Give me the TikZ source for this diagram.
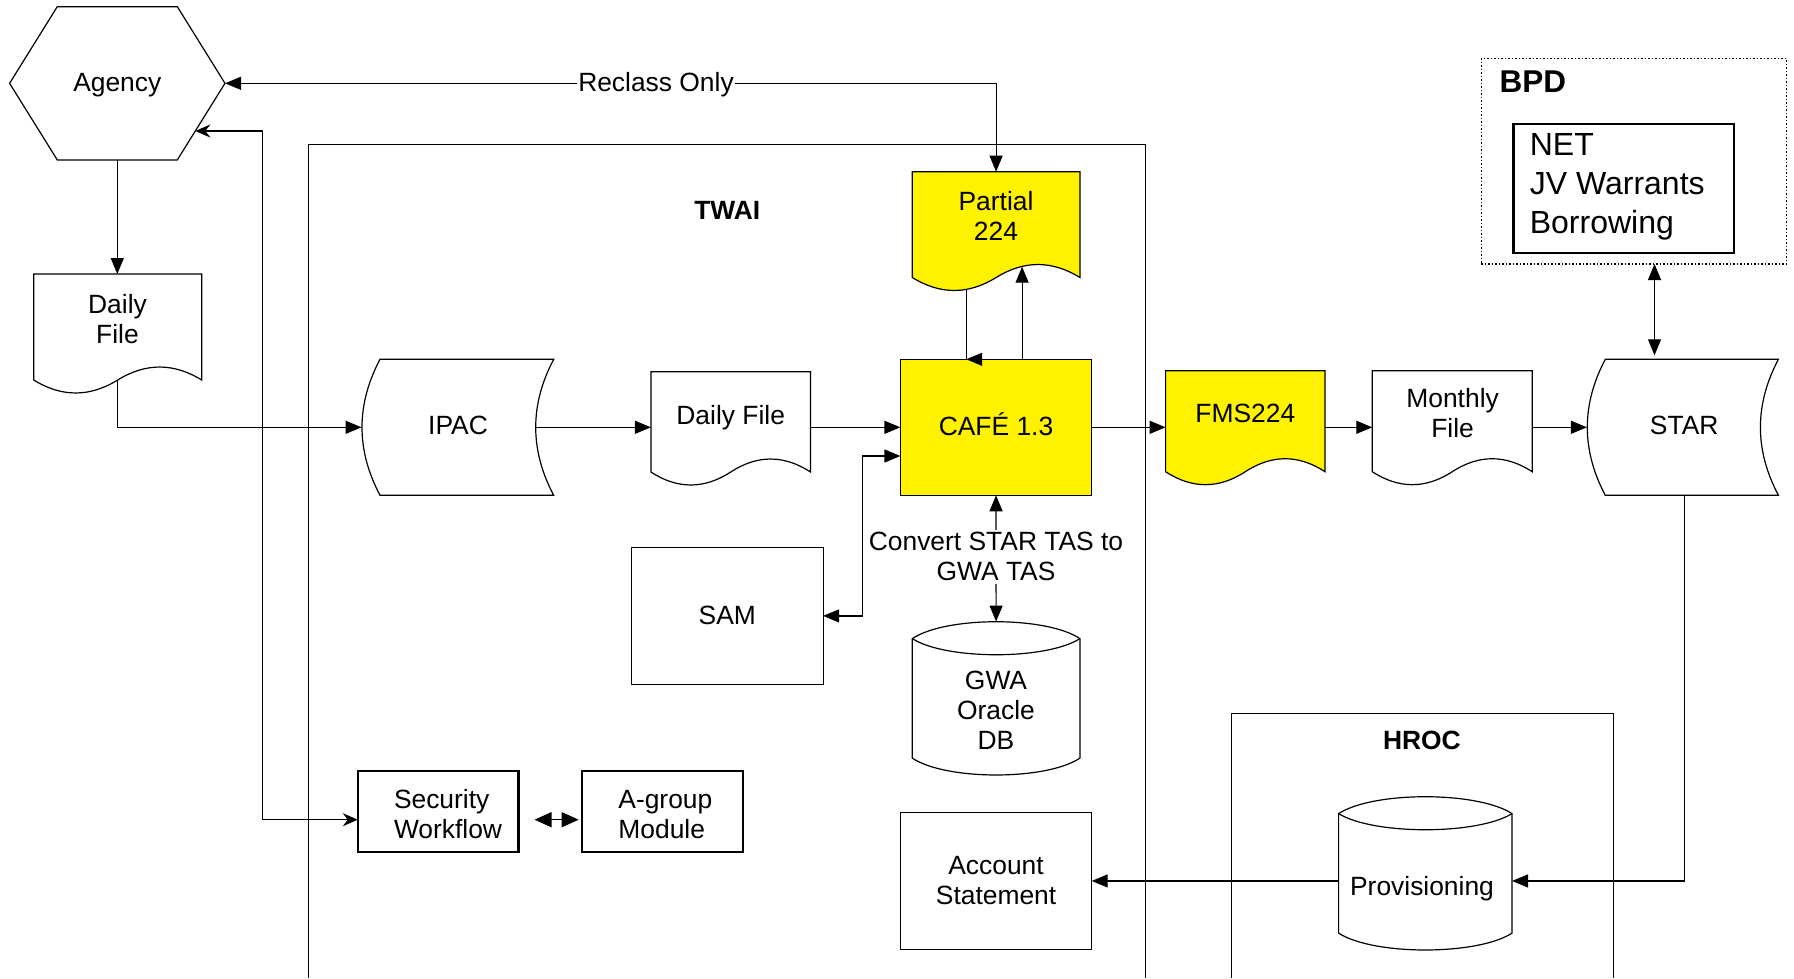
\documentclass[tikz,border=0pt]{standalone}
\usepackage{fontspec}
\setmainfont{Liberation Sans}
\usetikzlibrary{arrows.meta,calc}
\newcommand\mfs{\fontsize{26.4pt}{30pt}\selectfont}
\newcommand\docpath[2]{%
  \path[shp, fill=#2] (#1.north west) -- (#1.north east) -- (#1.south east)
    .. controls ($(#1.south east)!0.1667!(#1.south west)+(0,-17.3)$) and ($(#1.south east)!0.3333!(#1.south west)+(0,-17.3)$) .. ($(#1.south east)!0.5!(#1.south west)$)
    .. controls ($(#1.south east)!0.6667!(#1.south west)+(0,17.3)$) and ($(#1.south east)!0.8333!(#1.south west)+(0,17.3)$) .. (#1.south west) -- cycle;}
\newcommand\storedpath[1]{%
  \path[shp, fill=white] (#1.north west) -- (#1.north east)
    .. controls ($(#1.north east)+(-24,45.3)$) and ($(#1.south east)+(-24,-45.3)$) .. (#1.south east)
    -- (#1.south west)
    .. controls ($(#1.south west)+(-24,-45.3)$) and ($(#1.north west)+(-24,45.3)$) .. (#1.north west) -- cycle;}
\newcommand\cylpath[1]{%
  \path[shp, fill=white] (#1.north west)
    .. controls ($(#1.north west)!0.2!(#1.north east)+(0,-22.5)$) and ($(#1.north west)!0.8!(#1.north east)+(0,-22.5)$) .. (#1.north east)
    -- (#1.south east)
    .. controls ($(#1.south west)!0.8!(#1.south east)+(0,22.5)$) and ($(#1.south west)!0.2!(#1.south east)+(0,22.5)$) .. (#1.south west)
    -- cycle;
  \path[shp] (#1.north west)
    .. controls ($(#1.north west)!0.2!(#1.north east)+(0,21.5)$) and ($(#1.north west)!0.8!(#1.north east)+(0,21.5)$) .. (#1.north east);}
\begin{document}
\begin{tikzpicture}[x=1pt,y=-1pt,
  every node/.style={font=\mfs, inner sep=0pt, outer sep=0pt},
  shp/.style={draw=black, line width=1.2pt},
  conn/.style={draw=black, line width=1.2pt},
  arr/.style={conn, -{Triangle[length=16pt,width=13pt]}},
  darr/.style={conn, {Triangle[length=16pt,width=13pt]}-{Triangle[length=16pt,width=13pt]}},
  dst/.style={conn, {Stealth[length=15pt,width=13pt,inset=5pt]}-{Stealth[length=15pt,width=13pt,inset=5pt]}},
  boxthick/.style={draw=black, line width=2.4pt},
  boxthin/.style={draw=black, line width=1.2pt},
  lbl/.style={font=\fontsize{26.4pt}{30pt}\selectfont\bfseries},
]
\useasboundingbox (0,0) rectangle (1794,978);
\fill[white] (0,0) rectangle (1794,978);

% container boxes
\draw[black, line width=1.5pt] (308.4,978) |- (1145.3,144.3) -- (1145.3,978);
\draw[black, line width=1.2pt] (1231.5,978) |- (1613.6,713.6) -- (1613.6,978);
\node[draw=black, line width=1.5pt, dash pattern=on 1.5pt off 2pt, minimum width=305pt, minimum height=205.7pt] (bpd) at (1633.9,161.15) {};
\node[lbl] (twait) at (727.3,210.8) {TWAI};
\node[lbl] (hroct) at (1421.9,740.4) {HROC};
\node[font=\fontsize{31.5pt}{36pt}\selectfont\bfseries, anchor=west] (bpdt) at (1499.6,81.5) {BPD};

% geometry nodes
\node[minimum width=215.4pt, minimum height=153.3pt] (agency) at (117.3,83.3) {};
\path[shp] (agency.west) -- ($(agency.north)+(-60,0)$) -- ($(agency.north)+(60,0)$) -- (agency.east) -- ($(agency.south)+(60,0)$) -- ($(agency.south)+(-60,0)$) -- cycle;

\node[minimum width=168pt, minimum height=106pt] (docL) at (117.7,327) {};
\node[minimum width=167.6pt, minimum height=105.8pt] (partial) at (996.1,224.6) {};
\node[minimum width=159.6pt, minimum height=100.3pt] (docM) at (730.7,421.85) {};
\node[minimum width=159.4pt, minimum height=101pt] (fms) at (1245.3,421.2) {};
\node[minimum width=159.9pt, minimum height=101pt] (monthly) at (1452.25,421.2) {};
\node[minimum width=173.7pt, minimum height=136pt] (ipac) at (466.85,427.3) {};
\node[minimum width=173.1pt, minimum height=136pt] (star) at (1691.85,427.3) {};
\node[minimum width=167.6pt, minimum height=119.5pt] (gwa) at (996.1,698.35) {};
\node[minimum width=173.4pt, minimum height=119.5pt] (prov) at (1425.3,873.35) {};

\docpath{docL}{white}
\docpath{partial}{yellow}
\docpath{docM}{white}
\docpath{fms}{yellow}
\docpath{monthly}{white}
\storedpath{ipac}
\storedpath{star}
\cylpath{gwa}
\cylpath{prov}

\node[boxthin, fill=yellow, minimum width=191.3pt, minimum height=136pt] (cafe) at (996.05,427.3) {};
\node[boxthin, minimum width=191.7pt, minimum height=136.4pt] (sam) at (727.25,615.9) {SAM};
\node[boxthin, minimum width=191.3pt, minimum height=136.7pt, align=center] (acct) at (996.05,880.95) {Account\\Statement};
\node[boxthick, minimum width=160.7pt, minimum height=80.8pt] (sec) at (438.15,811.3) {};
\node[boxthick, minimum width=161pt, minimum height=80.8pt] (agrp) at (662.2,811.3) {};
\node[boxthick, minimum width=220.8pt, minimum height=128.7pt] (net) at (1623.7,188.35) {};

% texts
\node (agt) at (117.3,85.6) {Agency};
\node (cafet) at (996,424) {CAF\'E 1.3};
\node[align=center] (docLt) at (117.5,318.8) {Daily\\File};
\node[align=center] (partialt) at (996,215.8) {Partial\\224};
\node (docMt) at (730.7,417.5) {Daily File};
\node (fmst) at (1245.3,413.3) {FMS224};
\node[align=center] (monthlyt) at (1452.6,413.5) {Monthly\\File};
\node (ipact) at (458,425.8) {IPAC};
\node (start) at (1684.2,425.8) {STAR};
\node[align=center] (gwat) at (996,710.1) {GWA\\Oracle\\DB};
\node (provt) at (1422,888.4) {Provisioning};
\node[anchor=west, align=left] (sect) at (394,814.4) {Security\\Workflow};
\node[anchor=west, align=left] (agrpt) at (618.4,814.4) {A-group\\Module};
\node[anchor=west, align=left, font=\fontsize{32pt}{39pt}\selectfont] (nett) at (1529.8,187) {NET\\JV Warrants\\Borrowing};

% connectors
\draw[darr] (partial.north) |- (agency.east);
\node[fill=white, inner xsep=1pt, inner ysep=2pt] (reclass) at (656,84.2) {Reclass Only};

\coordinate (ag2) at (195.3,131);
\draw[dst] (ag2) -- (262.5,131) |- ($(sec.west)+(0,8.4)$);

\draw[arr] (agency.south) -- (agency.south |- docL.north);
\draw[arr] (docL.south) |- ($(ipac.west)+(-18.4,0)$);
\draw[arr] ($(ipac.east)+(-18,0)$) -- (docM.west |- ipac.east);
\draw[arr] (docM.east |- cafe.west) -- (cafe.west);
\draw[arr] (cafe.east) -- (cafe.east -| fms.west);
\draw[arr] (fms.east |- cafe.east) -- (monthly.west |- cafe.east);
\draw[arr] (monthly.east |- cafe.east) -- ($(star.west)+(-18.4,0)$);

% partial <-> cafe
\coordinate (pl) at (966.2,290);
\draw[conn] (pl) -- (pl |- cafe.north);
\draw[arr] ($(pl |- cafe.north)+(16,0)$) -- (pl |- cafe.north);
\coordinate (pu) at (1022.1,266.7);
\draw[arr] (pu |- cafe.north) -- (pu);

% SAM
\coordinate (cafeW) at ($(cafe.west)+(0,28.7)$);
\draw[darr] (cafeW) -- ++(-37.9,0) |- (sam.east);

% cafe <-> gwa
\draw[darr] (cafe.south) -- ($(gwa.north)+(0,-17)$);
\node[fill=white, inner xsep=1pt, inner ysep=3pt, align=center] (convt) at (996,556.9) {Convert STAR TAS to\\GWA TAS};

% security <-> a-group
\draw[conn, {Triangle[length=17pt,width=15pt]}-{Triangle[length=17pt,width=15pt]}] ($(sec.east)+(16,8.4)$) -- ($(agrp.west)+(-3,8.4)$);

% BPD <-> STAR
\coordinate (bs) at (1654.5,264);
\draw[darr] (bs) -- ($(bs |- star.north)+(0,-4)$);

% STAR -> provisioning -> account
\draw[arr] ($(star.south)+(-7.65,0)$) |- (prov.east |- acct.east);
\draw[arr] (prov.west |- acct.east) -- (acct.east);
\end{tikzpicture}
\end{document}
